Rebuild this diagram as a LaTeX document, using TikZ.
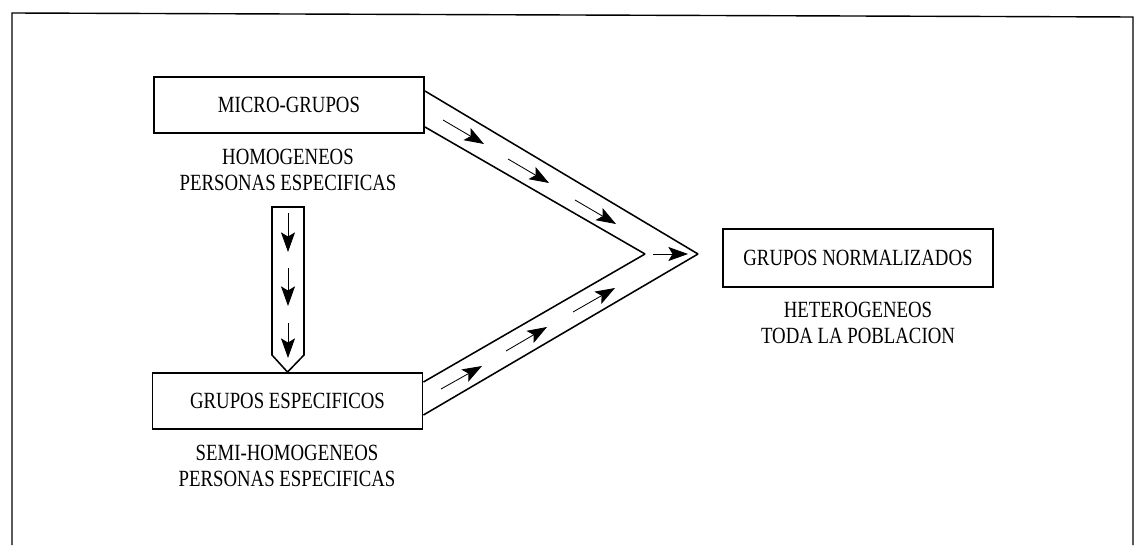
\documentclass[tikz,border=0pt]{standalone}
\usepackage{fontspec}
\setmainfont{Liberation Serif}[FakeStretch=0.81]
\usetikzlibrary{arrows.meta}

\begin{document}
\begin{tikzpicture}[x=0.025cm, y=-0.025cm, line width=1.1pt,
        caja/.style={draw, line width=1.3pt, minimum width=6.75cm, minimum height=1.4cm, inner sep=0pt, font=\fontsize{16.5}{18}\selectfont},
        texto/.style={align=center, font=\fontsize{16.5}{18.5}\selectfont},
        flecha/.style={-{Stealth[length=14pt, width=10pt, inset=3pt]}, line width=0.6pt}]
            \useasboundingbox (0,0) rectangle (1142,545);

            % Frame
            \draw[line width=1pt] (12,545) -- (12,13) -- (1133,17) -- (1133,545);

            % Boxes
            \node[caja] (micro) at (289,105) {MICRO-GRUPOS};
            \node[caja] (esp) at (287.5,401) {GRUPOS ESPECIFICOS};
            \node[caja, minimum height=1.45cm] (norm) at (858,258) {GRUPOS NORMALIZADOS};

            % Labels under the boxes
            \node[texto] (microsub) at (288,170) {HOMOGENEOS\\PERSONAS ESPECIFICAS};
            \node[texto] (espsub) at (287,466) {SEMI-HOMOGENEOS\\PERSONAS ESPECIFICAS};
            \node[texto] (normsub) at (858,323) {HETEROGENEOS\\TODA LA POBLACION};

            % Wide arrow down
            \draw (esp.north) -- (272,355) -- (272,207) -- (304,207) -- (304,355) -- cycle;
            \draw[flecha] (288,213) -- (288,252);
            \draw[flecha] (288,268) -- (288,306);
            \draw[flecha] (288,323) -- (288,358);

            % Chevron towards the normalized groups
            \coordinate (pico) at (698,254);
            \coordinate (codo) at (645,254);
            \draw (micro.east) ++(0,-14) -- (pico);
            \draw (micro.east) ++(0,22) -- (codo);
            \draw (esp.east) ++(0,-19) -- (codo);
            \draw (esp.east) ++(0,14) -- (pico);

            % Small arrows inside the chevron
            \draw[flecha] (443,120) -- (484,144);
            \draw[flecha] (508,159) -- (549,183);
            \draw[flecha] (575,200) -- (616,224);
            \draw[flecha] (653,254) -- (688,254);
            \draw[flecha] (441,389) -- (482,366);
            \draw[flecha] (506,351) -- (547,327);
            \draw[flecha] (573,312) -- (615,288);
        \end{tikzpicture}
\end{document}
